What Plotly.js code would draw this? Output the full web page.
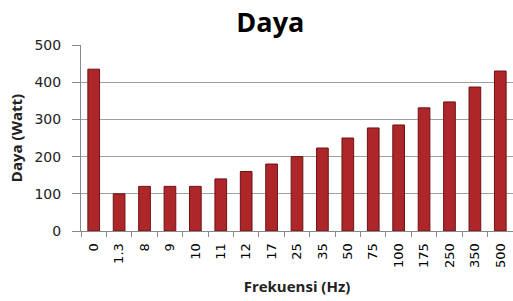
<!DOCTYPE html>
<html><head><meta charset="utf-8">
<script src="https://cdn.plot.ly/plotly-3.0.1.min.js"></script>
<style>html,body{margin:0;padding:0;background:#fff}#chart{width:513px;height:301px}</style>
</head><body><div id="chart"></div>
<script>
const categories = ["0","1.3","8","9","10","11","12","17","25","35","50","75","100","175","250","350","500"];
const daya = [435,100,120,120,120,140,160,180,200,223,250,277,285,331,347,387,430];
const yTicks = [0,100,200,300,400,500];

const trace = {
  type: 'bar', x: categories, y: daya,
  marker: {color: '#ad2629', line: {color: '#6e1214', width: 1}},
  width: 0.46, hoverinfo: 'none'
};
const layout = {
  width: 513, height: 301,
  margin: {l: 81, r: 0, t: 45, b: 70},
  paper_bgcolor: '#fff', plot_bgcolor: '#fff',
  showlegend: false,
  title: {text: '<b>Daya</b>', x: 0.527, xanchor: 'center', y: 0.925, yanchor: 'middle',
    font: {family: 'Open Sans, sans-serif', size: 27, color: '#000'}},
  xaxis: {type: 'category', tickangle: -90, tickson: 'boundaries', ticks: 'outside', ticklen: 5,
    tickcolor: '#888', showline: true, linecolor: '#888', linewidth: 1, ticklabelstandoff: 6,
    tickfont: {family: 'DejaVu Sans, sans-serif', size: 13, color: '#000'},
    title: {text: '<b>Frekuensi (Hz)</b>', standoff: 14, font: {family: 'Open Sans, sans-serif', size: 15, color: '#222'}},
    range: [-0.5, 16.5], fixedrange: true},
  yaxis: {range: [0, 500], tickvals: yTicks, ticks: 'outside', ticklen: 8, tickcolor: '#888',
    showline: true, linecolor: '#888', linewidth: 1, showgrid: true, gridcolor: '#a0a0a0', gridwidth: 1,
    zeroline: false, ticklabelstandoff: 8,
    tickfont: {family: 'DejaVu Sans, sans-serif', size: 14, color: '#222'},
    title: {text: '<b>Daya (Watt)</b>', standoff: 8, font: {family: 'Open Sans, sans-serif', size: 15, color: '#222'}}}
};
Plotly.newPlot('chart', [trace], layout, {staticPlot: true, displayModeBar: false});
</script></body></html>
